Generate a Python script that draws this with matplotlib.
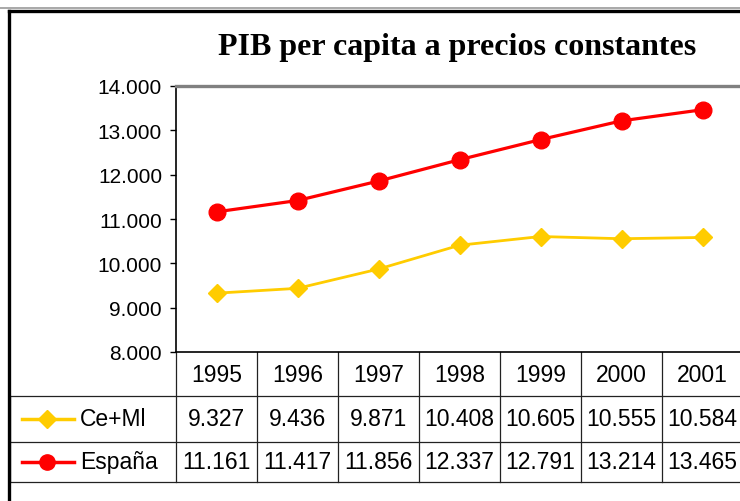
import matplotlib
matplotlib.use("Agg")
import matplotlib.pyplot as plt
from matplotlib.lines import Line2D
from matplotlib.ticker import FuncFormatter
import matplotlib.transforms as mtransforms

years = ["1995", "1996", "1997", "1998", "1999", "2000", "2001"]
ceml = [9327, 9436, 9871, 10408, 10605, 10555, 10584]
espana = [11161, 11417, 11856, 12337, 12791, 13214, 13465]
series_names = ["Ce+Ml", "España"]
title = "PIB per capita a precios constantes"

plt.rcParams['font.family'] = ['Liberation Sans', 'DejaVu Sans']

W, H = 740, 502
fig = plt.figure(figsize=(W / 100, H / 100), dpi=100)

# outer frame (clipped on right and bottom like the screenshot)
fig.add_artist(Line2D([0, 1], [1 - 8.5 / H] * 2, color="#9a9a9a", lw=1.2))
fig.add_artist(Line2D([8.5 / W, 8.5 / W], [0, 1 - 11.5 / H], color="black", lw=2.4))
fig.add_artist(Line2D([8.5 / W, 1], [1 - 11.5 / H] * 2, color="black", lw=2.4))

ax = fig.add_axes([176 / W, (H - 353) / H, 567 / W, 266 / H])
x = list(range(len(years)))
ax.plot(x, ceml, color="#FFCC00", lw=2.0, marker="D", markersize=9,
        markeredgecolor="#FFCC00", clip_on=False, zorder=3)
ax.plot(x, espana, color="#FF0000", lw=2.3, marker="o", markersize=12,
        markeredgecolor="#FF0000", clip_on=False, zorder=3)

ax.set_xlim(-0.5, len(years) - 0.5)
ax.set_ylim(8000, 14000)
ax.set_yticks(range(8000, 14001, 1000))
ax.yaxis.set_major_formatter(FuncFormatter(lambda v, p: f"{int(v):,}".replace(",", ".")))
ax.tick_params(axis="y", direction="out", length=4, width=1, labelsize=15, pad=6)
ax.set_xticks([])
ax.spines["right"].set_visible(False)
ax.spines["top"].set_color("#808080")
ax.spines["top"].set_linewidth(2.4)
ax.spines["left"].set_linewidth(1.2)
ax.spines["bottom"].set_linewidth(1.2)

fig.text(457 / W, 1 - 47 / H, title, ha="center", va="center", fontsize=23,
         fontweight="bold", family=["Liberation Serif", "DejaVu Serif"])

# data table under the axis
tr = mtransforms.blended_transform_factory(ax.transData, ax.transAxes)
def ay(px):
    return (353 - px) / 266.0
def axx(px):
    return (px - 176) / 567.0

lc = "#222222"
for k in range(len(years) + 1):
    ax.plot([k - 0.5, k - 0.5], [0, ay(483)], color=lc, lw=0.9, transform=tr, clip_on=False)
for py in [397, 443, 483]:
    ax.plot([axx(10), 1.02], [ay(py)] * 2, color=lc, lw=0.9, transform=ax.transAxes, clip_on=False)
ax.plot([axx(10)] * 2, [ay(397), ay(483)], color=lc, lw=0.9, transform=ax.transAxes, clip_on=False)

for k, yr in enumerate(years):
    ax.text(k, ay(376), yr, ha="center", va="center", fontsize=16.5, transform=tr)

rows = [ceml, espana]
row_y = [420, 463]
styles = [dict(color="#FFCC00", marker="D", markersize=9), dict(color="#FF0000", marker="o", markersize=11)]
for vals, name, py, st in zip(rows, series_names, row_y, styles):
    for k, v in enumerate(vals):
        ax.text(k, ay(py), f"{v:,}".replace(",", "."), ha="center", va="center",
                fontsize=16.5, transform=tr)
    ax.add_line(Line2D([axx(22), axx(74)], [ay(py)] * 2, color=st["color"], lw=2.5,
                       transform=ax.transAxes, clip_on=False))
    ax.add_line(Line2D([axx(47)], [ay(py)], color=st["color"], marker=st["marker"],
                       markersize=st["markersize"], markeredgecolor=st["color"],
                       transform=ax.transAxes, clip_on=False))
    ax.text(axx(80), ay(py), name, ha="left", va="center", fontsize=16.5,
            transform=ax.transAxes)

fig.savefig("out.png", dpi=100)
